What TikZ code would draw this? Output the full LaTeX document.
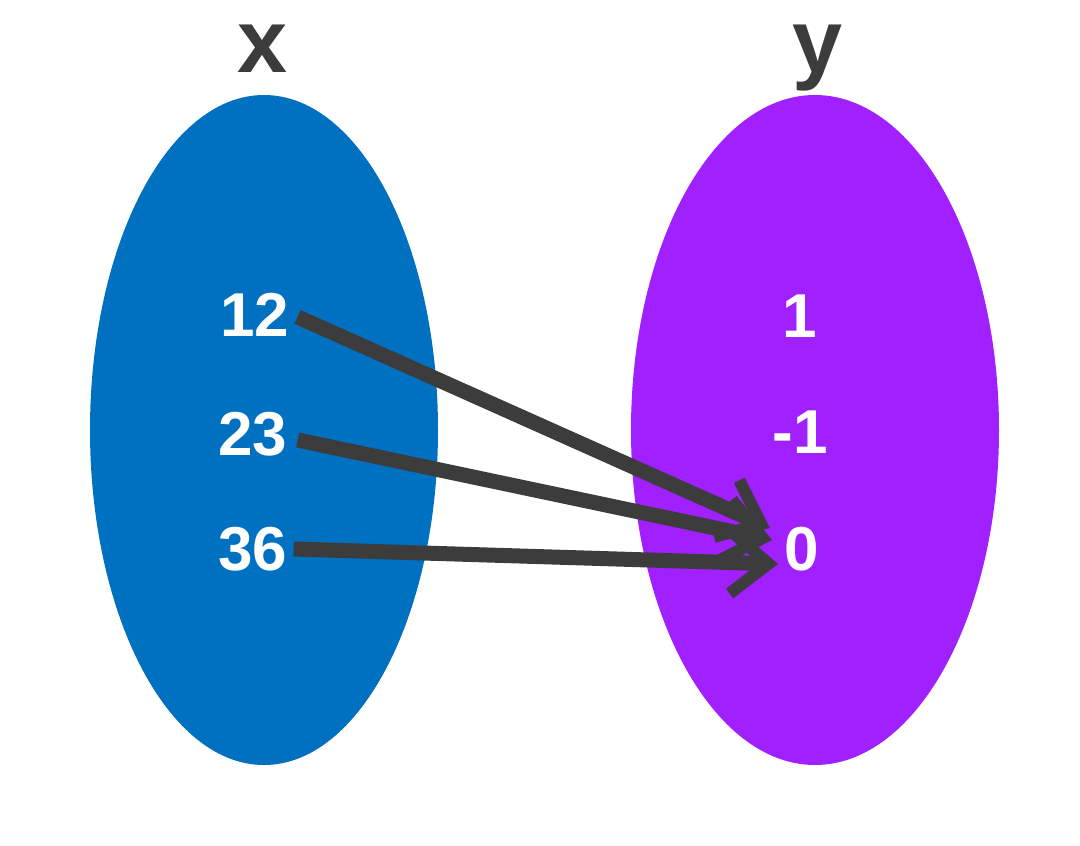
\documentclass[tikz,border=0pt]{standalone}
\usepackage{fontspec}
\setmainfont{Liberation Sans}
\usetikzlibrary{arrows.meta}
\definecolor{lblue}{HTML}{0070C0}
\definecolor{rpurp}{HTML}{A020FF}
\definecolor{dgray}{HTML}{3C3C3C}
\begin{document}
\begin{tikzpicture}[x=1pt,y=-1pt,
  num/.style={text=white,font=\fontsize{62}{62}\selectfont\bfseries,inner sep=0pt},
  head/.style={text=dgray,font=\fontsize{90}{90}\selectfont\bfseries,inner sep=0pt,anchor=base,text height=0.56em},
  arr/.style={draw=dgray,line width=15pt,-{Straight Barb[length=38pt,width=62pt,line width=12pt]}}]
\useasboundingbox (0,0) rectangle (1080,846);
\fill[lblue] (264,430) ellipse[x radius=174,y radius=335];
\fill[rpurp] (815,430) ellipse[x radius=184,y radius=335];
\node[head] (hx) at (263,72) {x};
\node[head] (hy) at (818,72) {y};
\node[num] (a) at (255,315) {12};
\node[num] (b) at (253,434) {23};
\node[num] (c) at (253,549) {36};
\node[num] (p) at (800,316) {1};
\node[num] (q) at (800,432) {-1};
\node[num] (r) at (802,549) {0};
\coordinate (e1) at (770,528);
\coordinate (e2) at (772,540);
\coordinate (e3) at (778,564);
\draw[arr] (a.east)++(8,2) -- (e1);
\draw[arr] (b.east)++(10,6) -- (e2);
\draw[arr] (c.east)++(6,0) -- (e3);
\end{tikzpicture}
\end{document}
